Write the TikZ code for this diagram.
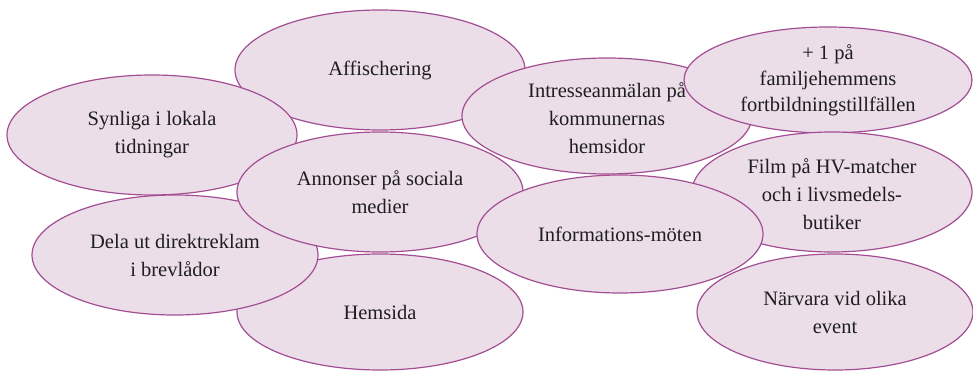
\documentclass[tikz,border=0pt]{standalone}
\usepackage{fontspec}
\setmainfont{Liberation Serif}
\usetikzlibrary{shapes.geometric}
\definecolor{blobfill}{RGB}{235,222,233}
\definecolor{blobline}{RGB}{163,78,147}
\definecolor{txtcol}{RGB}{30,30,30}
\tikzset{
  blob/.style={ellipse, draw=blobline, fill=blobfill, line width=1.2pt, inner sep=0pt},
  lbl/.style={align=center, text=txtcol, font=\fontsize{20.5}{28}\selectfont, inner sep=0pt}
}
\begin{document}
\begin{tikzpicture}[x=1pt,y=-1pt]
\useasboundingbox (0,0) rectangle (973,371);
% Hemsida
\node[blob, minimum width=286pt, minimum height=116pt] (hem) at (380,312) {};
\node[lbl] (hemt) at (hem.center) {Hemsida};
% Affischering
\node[blob, minimum width=290pt, minimum height=120pt] (aff) at (380,70) {};
\node[lbl] (afft) at (aff.center) {Affischering};
% Synliga
\node[blob, minimum width=290pt, minimum height=120pt] (syn) at (152,135) {};
\node[lbl] (synt) at (syn.center) {Synliga i lokala\\tidningar};
% Dela ut
\node[blob, minimum width=286pt, minimum height=120pt] (dela) at (175,255) {};
\node[lbl] (delat) at (dela.center) {Dela ut direktreklam\\i brevlådor};
% Annonser
\node[blob, minimum width=286pt, minimum height=120pt] (ann) at (380,192) {};
\node[lbl] (annt) at (ann.center) {Annonser på sociala\\medier};
% Intresseanmälan
\node[blob, minimum width=290pt, minimum height=116pt] (intr) at (607,116) {};
\node[lbl] (intrt) at (607,118) {Intresseanmälan på\\kommunernas\\hemsidor};
% +1
\node[blob, minimum width=288pt, minimum height=106pt] (plus) at (828,80) {};
\node[lbl, font=\fontsize{20.5}{26}\selectfont] (plust) at (plus.center) {+ 1 på\\familjehemmens\\fortbildningstillfällen};
% Film
\node[blob, minimum width=280pt, minimum height=120pt] (film) at (832,192) {};
\node[lbl] (filmt) at (832,194) {Film på HV-matcher\\och i livsmedels-\\butiker};
% Informations-möten
\node[blob, minimum width=286pt, minimum height=118pt] (info) at (620,234) {};
\node[lbl] (infot) at (info.center) {Informations-möten};
% Närvara
\node[blob, minimum width=276pt, minimum height=116pt] (narv) at (835,312) {};
\node[lbl] (narvt) at (narv.center) {Närvara vid olika\\event};
\end{tikzpicture}
\end{document}
